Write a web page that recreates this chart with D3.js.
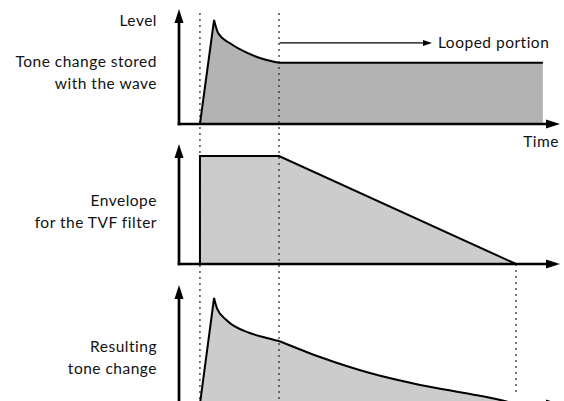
<!DOCTYPE html>
<html>
<head>
<meta charset="utf-8">
<script src="https://cdn.jsdelivr.net/npm/d3@7"></script>
<style>
body { margin: 0; background: #fff; }
text { font-family: Lato, "Open Sans", sans-serif; font-size: 15.5px; letter-spacing: 0.5px; fill: #111; }
</style>
</head>
<body>
<script>
// time runs 0..100 along every panel, level 0..1
var attackStart = 5.5, peakTime = 9.2, loopStart = 26.25, tvfEnd = 88.45, waveEnd = 95.5;

var waveDecay = [[9.2, 1], [10.3, 0.872], [13.4, 0.776], [18.2, 0.679], [23.0, 0.615], [26.25, 0.589]];
var waveSustain = 0.589;

var tvfEnvelope = [[5.5, 0], [5.5, 1], [26.25, 1], [88.45, 0]];

var resultDecay1 = [[9.2, 1], [10.0, 0.9], [12.5, 0.79], [18.6, 0.67], [23.0, 0.623], [26.25, 0.594]];
var resultDecay2 = [[26.25, 0.594], [37.0, 0.443], [50.1, 0.292], [63.3, 0.18], [76.4, 0.094], [84.3, 0.038], [88.45, 0]];

var panelLabels = [["Tone change stored", "with the wave"], ["Envelope", "for the TVF filter"], ["Resulting", "tone change"]];
var loopArrow = { from: 26.4, to: 66.4, level: 0.78, label: "Looped portion" };

var width = 564, height = 401;
var svg = d3.select("body").append("svg").attr("width", width).attr("height", height);

var x = d3.scaleLinear().domain([0, 100]).range([179, 560]);
var panels = [
    { base: 124, top: 20, tip: 9, fill: "#b3b3b3" },
    { base: 264, top: 156, tip: 144, fill: "#cccccc" },
    { base: 404, top: 298, tip: 285, fill: "#cccccc" }
];
panels.forEach(function(p) {
    p.y = d3.scaleLinear().domain([0, 1]).range([p.base, p.top]);
});

function curvePart(pts, y) {
    var s = d3.line().x(function(d) { return x(d[0]); }).y(function(d) { return y(d[1]); })
        .curve(d3.curveMonotoneX)(pts);
    return s.replace(/^M/, "L");
}
function pt(t, v, y) { return x(t) + "," + y(v); }

// shapes
var p1 = panels[0], p2 = panels[1], p3 = panels[2];
var wave = "M" + pt(attackStart, 0, p1.y) + "L" + pt(peakTime, 1, p1.y) + curvePart(waveDecay, p1.y)
    + "L" + pt(waveEnd, waveSustain, p1.y);
var waveFill = wave + "L" + pt(waveEnd, 0, p1.y) + "Z";

var tvf = d3.line().x(function(d) { return x(d[0]); }).y(function(d) { return p2.y(d[1]); })(tvfEnvelope);

var result = "M" + pt(attackStart, 0, p3.y) + "L" + pt(peakTime, 1, p3.y) + curvePart(resultDecay1, p3.y)
    + curvePart(resultDecay2, p3.y);
var resultFill = result + "Z";

svg.append("path").attr("d", waveFill).attr("fill", p1.fill);
svg.append("path").attr("d", tvf + "Z").attr("fill", p2.fill);
svg.append("path").attr("d", resultFill).attr("fill", p3.fill);

// dotted guides
var guides = [
    { t: attackStart, y0: 13, y1: 401 },
    { t: loopStart, y0: 13, y1: 401 },
    { t: tvfEnd, y0: p2.base, y1: 396 }
];
svg.selectAll(".guide").data(guides).enter().append("line")
    .attr("x1", function(d) { return x(d.t); }).attr("x2", function(d) { return x(d.t); })
    .attr("y1", function(d) { return d.y0; }).attr("y2", function(d) { return d.y1; })
    .attr("stroke", "#222").attr("stroke-width", 1.2).attr("stroke-dasharray", "2,4");

// outlines
[wave, tvf, result].forEach(function(d) {
    svg.append("path").attr("d", d).attr("fill", "none").attr("stroke", "#000")
        .attr("stroke-width", 2).attr("stroke-linejoin", "miter");
});

// axes
panels.forEach(function(p) {
    var x0 = x(0), x1 = x(100);
    svg.append("line").attr("x1", x0).attr("x2", x0).attr("y1", p.base + 1.3).attr("y2", p.tip + 10)
        .attr("stroke", "#000").attr("stroke-width", 2.7);
    svg.append("path").attr("d", "M" + x0 + "," + p.tip + "L" + (x0 - 4.5) + "," + (p.tip + 14) + "L" + (x0 + 4.5) + "," + (p.tip + 14) + "Z");
    svg.append("line").attr("x1", x0 - 1.3).attr("x2", x1 - 10).attr("y1", p.base).attr("y2", p.base)
        .attr("stroke", "#000").attr("stroke-width", 2.7);
    svg.append("path").attr("d", "M" + x1 + "," + p.base + "L" + (x1 - 14) + "," + (p.base - 4.5) + "L" + (x1 - 14) + "," + (p.base + 4.5) + "Z");
});

// looped portion arrow
var ly = p1.y(loopArrow.level);
svg.append("line").attr("x1", x(loopArrow.from)).attr("x2", x(loopArrow.to) - 6).attr("y1", ly).attr("y2", ly)
    .attr("stroke", "#000").attr("stroke-width", 1.2);
svg.append("path").attr("d", "M" + x(loopArrow.to) + "," + ly + "L" + (x(loopArrow.to) - 9) + "," + (ly - 3) + "L" + (x(loopArrow.to) - 9) + "," + (ly + 3) + "Z");
svg.append("text").attr("x", x(loopArrow.to) + 6).attr("y", ly + 5).text(loopArrow.label);

// texts
svg.append("text").attr("x", 157).attr("y", 26).attr("text-anchor", "end").text("Level");
svg.append("text").attr("x", 559).attr("y", 147).attr("text-anchor", "end").text("Time");
var labelY = [67, 206, 352];
panelLabels.forEach(function(lines, i) {
    lines.forEach(function(s, j) {
        svg.append("text").attr("x", 157).attr("y", labelY[i] + j * 22).attr("text-anchor", "end").text(s);
    });
});
</script>
</body>
</html>
